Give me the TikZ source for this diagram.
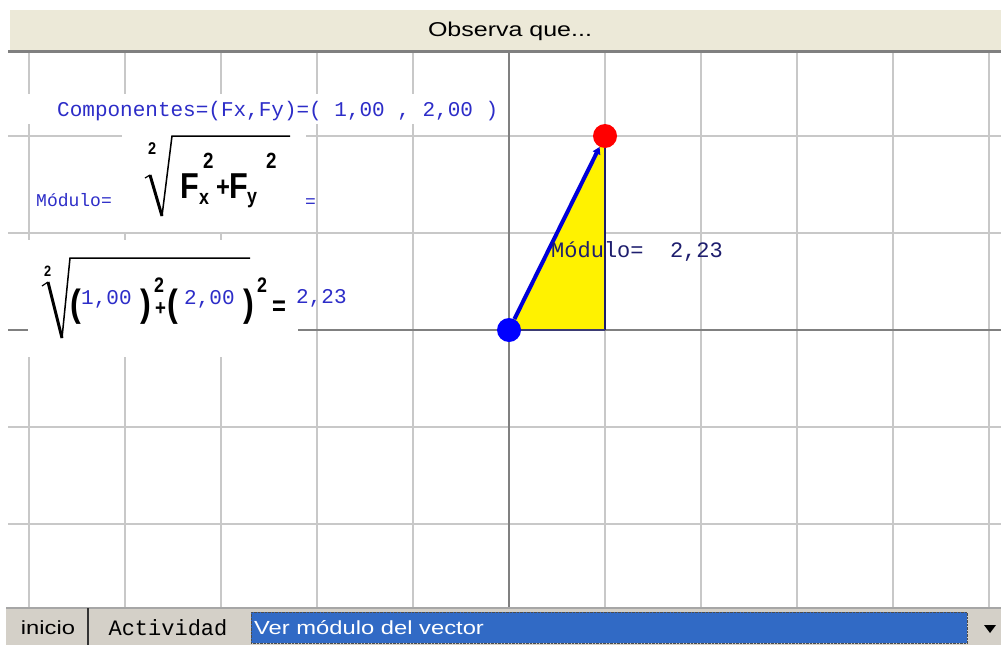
\documentclass[tikz,border=0pt]{standalone}
\usepackage{fontspec}
\setmainfont{Liberation Sans}
\newfontfamily\uifont[FakeStretch=1.25]{Liberation Sans}
\newfontfamily\formfont[FakeStretch=0.85]{Liberation Sans}
\newfontfamily\codefont{Liberation Mono}
\usetikzlibrary{arrows.meta}
\definecolor{gridgray}{RGB}{200,200,200}
\definecolor{axisgray}{RGB}{128,128,128}
\definecolor{txtblue}{RGB}{45,45,200}
\definecolor{navyblue}{RGB}{30,30,110}
\definecolor{barbeige}{RGB}{236,233,216}
\definecolor{bargray}{RGB}{212,208,200}
\definecolor{selblue}{RGB}{49,106,197}

\begin{document}
\begin{tikzpicture}[x=1pt, y=-1pt,
    gridline/.style={draw=gridgray, line width=1.2pt},
    axisline/.style={draw=axisgray, line width=1.6pt},
    mask/.style={fill=white, draw=none},
    codetext/.style={inner sep=0pt, anchor=base west, text=txtblue,
                     font=\codefont\fontsize{#1}{#1}\selectfont},
    boldtext/.style={inner sep=0pt, anchor=base west,
                     font=\formfont\bfseries\fontsize{#1}{#1}\selectfont},
    uitext/.style={inner sep=0pt, font=\uifont\fontsize{#1}{#1}\selectfont},
    dot/.style={circle, inner sep=0pt, minimum size=24pt},
    vec/.style={-{Triangle[length=7pt,width=8pt]}, blue!85!black, line width=4pt}
]
\useasboundingbox (0,0) rectangle (1001,645);
\fill[white] (0,0) rectangle (1001,645);

% grid and axes
\foreach \gx in {29,125,221,317,413,605,701,797,893,989}
  \draw[gridline] (\gx,52) -- (\gx,607);
\foreach \gy in {136,233,427,524}
  \draw[gridline] (8,\gy) -- (1001,\gy);
\draw[axisline] (509,52) -- (509,607);
\draw[axisline] (8,330) -- (1001,330);

% white backs of the formulas
\fill[mask] (15,94) rectangle (500,124);
\fill[mask] (122,124) rectangle (306,232);
\fill[mask] (28,240) rectangle (298,357);

% top bar
\fill[barbeige] (10,10) rectangle (1001,50);
\draw[axisgray, line width=3pt] (8,51) -- (1001,51);
\node[uitext=20] (title) at (510,31) {Observa que...};

% components
\node[codetext=21] (comp) at (57,116) {Componentes=(Fx,Fy)=( 1,00 , 2,00 )};

% first root
\node[codetext=18] (modlbl) at (36,206) {Módulo=};
\node[boldtext=17] (idxa) at (148,154) {2};
\draw[line width=1.2pt] (145,178) -- (150,175);
\draw[line width=3pt] (150,175) -- (162,216);
\draw[line width=1.5pt] (162,216) -- (172,136) -- (290,136);
\node[boldtext=36] (Fa) at (180,198) {F};
\node[boldtext=21] (xsub) at (199,204) {x};
\node[boldtext=22] (xsup) at (203,168) {2};
\node[boldtext=28] (plusa) at (216,196) {+};
\node[boldtext=36] (Fb) at (229,198) {F};
\node[boldtext=21] (ysub) at (247,203) {y};
\node[boldtext=22] (ysup) at (266,168) {2};
\node[codetext=18] (eqa) at (305,207) {=};

% second root
\node[boldtext=15] (idxb) at (44,276) {2};
\draw[line width=1.2pt] (42,286) -- (48,282);
\draw[line width=3pt] (48,282) -- (62,338);
\draw[line width=1.5pt] (62,338) -- (70,258) -- (250,258);
\node[boldtext=38] (lpa) at (70,316) {(};
\node[codetext=21] (vala) at (81,304) {1,00};
\node[boldtext=38] (rpa) at (140,316) {)};
\node[boldtext=21] (supa) at (154,292) {2};
\node[boldtext=22] (plusb) at (155,315) {+};
\node[boldtext=38] (lpb) at (167,316) {(};
\node[codetext=21] (valb) at (184,304) {2,00};
\node[boldtext=38] (rpb) at (243,316) {)};
\node[boldtext=21] (supb) at (257,292) {2};
\node[boldtext=28] (eqb) at (272,315) {=};
\node[codetext=21] (res) at (296,303) {2,23};

% vector and its triangle
\coordinate (orig) at (509,330);
\coordinate (foot) at (605,330);
\coordinate (top) at (605,136);
\fill[yellow] (orig) -- (foot) -- (top) -- cycle;
\draw[navyblue, line width=2pt] (foot) -- (top);
\draw[navyblue!70!gray, line width=2.5pt] (orig) -- (foot);
\node[dot, fill=blue] (tail) at (orig) {};
\node[dot, fill=red] (head) at (top) {};
\draw[vec] (tail) -- (head);
\node[codetext=22, text=navyblue] (modright) at (551,257) {Módulo=\ \ 2,23};

% bottom bar
\fill[bargray] (6,608) rectangle (1001,645);
\draw[gray!70, line width=2pt] (6,608) -- (1001,608);
\draw[black!80, line width=2pt] (88,608) -- (88,645);
\node[uitext=19] (inicio) at (48,628) {inicio};
\node[codetext=22, text=black, anchor=center] (activ) at (168,628) {Actividad};
\node[draw=black!70, densely dotted, fill=selblue, anchor=north west,
      minimum width=716pt, minimum height=31pt, inner sep=0pt] (combo) at (251,612) {};
\node[uitext=19, text=white, anchor=west] (choice) at (254,628) {Ver módulo del vector};
\fill[bargray] (970,612) rectangle (1001,645);
\fill[black] (984,625) -- (996,625) -- (990,633) -- cycle;
\end{tikzpicture}
\end{document}
